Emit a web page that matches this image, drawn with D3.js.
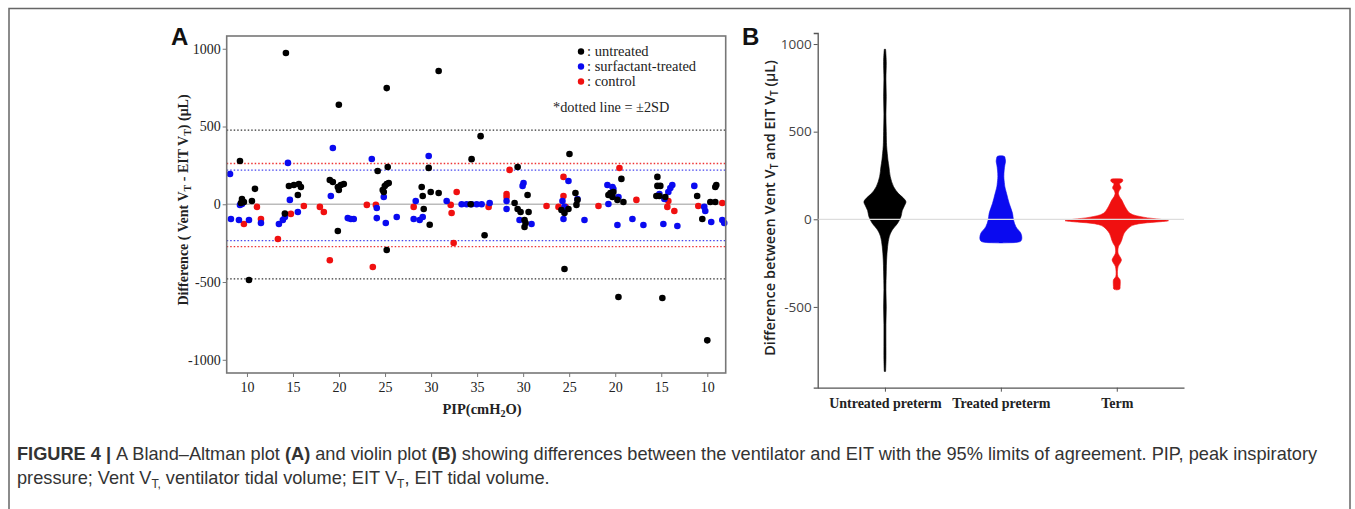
<!DOCTYPE html>
<html>
<head>
<meta charset="utf-8">
<script src="https://cdn.jsdelivr.net/npm/d3@7"></script>
<style>
  body { margin: 0; background: #fff; }
  svg { display: block; }
</style>
</head>
<body>
<svg id="fig" width="1355" height="509"></svg>
<script>
// ---- panel A data: position along the PIP sweep (10 -> 35 -> 10) and difference (µL)
const untreatedT = [9.24, 9.46, 9.67, 9.35, 10.54, 10.87, 14.56, 15.1, 15.64, 15.86, 15.53, 14.12, 14.23, 10.22,
  19.98, 19.0, 19.33, 19.87, 20.2, 20.52, 19.98, 19.87, 25.18, 24.2, 25.29, 24.75, 24.97, 25.18, 25.4, 24.86, 25.18,
  30.82, 29.74, 28.98, 29.09, 29.96, 30.82, 29.2, 29.85, 34.4, 35.38, 35.81, 34.3, 39.4, 40.48, 39.07, 39.4, 39.72,
  40.59, 40.15, 40.26, 40.15, 45.03, 45.68, 44.16, 44.92, 44.49, 45.79, 45.9, 44.49, 50.67, 49.26, 49.7, 49.8, 49.48,
  50.24, 50.89, 50.35, 54.58, 54.9, 54.58, 54.47, 54.8, 55.44, 55.12, 58.9, 59.46, 60.87, 60.98, 60.33, 60.87, 60.0];
const untreatedV = [278, 34, 15, 8, 21, 99, 117, 124, 130, 111, 60, -60, 973, -487,
  640, 156, 143, 111, 124, 130, 92, -172, 747, 214, 240, 92, 117, 130, 137, 79, -294,
  857, 234, 111, 53, 79, 72, -30, -132, 290, 438, -199, 0, 240, 60, 8, -30, -50,
  -50, -101, -120, -146, 323, 72, -37, -30, -56, -4, 28, -416, 163, 60, 47, 79, 72,
  28, 15, -596, 176, 118, 118, 53, 53, 47, -603, 53, -95, 111, 124, 15, 15, -875];

const treatedT = [8.16, 9.24, 9.46, 8.26, 9.13, 10.22, 11.52, 14.45, 14.66, 15.53, 13.47, 13.9, 14.12, 19.33, 19.11,
  20.95, 21.28, 21.6, 23.56, 24.86, 24.1, 24.1, 25.08, 26.27, 28.11, 28.76, 29.74, 28.33, 29.09, 31.69,
  33.32, 33.86, 34.4, 34.95, 35.49, 36.36, 38.2, 38.2, 40.04, 39.94, 39.61, 40.91, 44.92, 44.27, 44.49, 44.38,
  45.9, 46.66, 49.15, 49.7, 49.8, 50.35, 49.26, 50.24, 51.87, 53.06, 54.8, 55.34, 56.2, 55.99, 55.77, 55.23,
  56.75, 58.59, 59.67, 59.78, 60.43, 61.63, 61.84];
const treatedV = [195, -5, 2, -95, -101, -101, -120, 266, 28, -50, -127, -101, -82, 362, 53,
  -89, -95, -95, 291, 47, -24, -89, -120, -82, -95, -101, 310, 21, -82, 21,
  0, 0, 0, 0, 0, 8, 21, -30, 137, 118, -101, -127, 150, 21, -17, -95,
  34, -101, 124, 111, 98, 47, 2, -133, -95, -133, 66, 34, 124, 105, 79, -127,
  -140, 118, -17, -43, -114, -101, -120];

const controlT = [11.08, 9.67, 11.52, 16.18, 14.77, 13.36, 17.92, 18.35, 19.0, 23.02, 24.0, 23.67, 28.11, 32.78,
  32.13, 32.23, 32.45, 36.25, 38.53, 38.2, 38.2, 42.54, 44.38, 44.38, 43.84, 44.6, 48.18, 50.46, 52.3, 55.77,
  55.66, 56.42, 59.02, 61.63];
const controlV = [-17, -127, -95, -11, -62, -223, -17, -50, -360, -4, -4, -403, -17, 79,
  -4, -56, -249, -17, 221, 66, 47, -11, 176, 53, -17, -17, -11, 233, 28, 21,
  -17, -43, -11, 8];

const pipTickPos = [10, 15, 20, 25, 30, 35, 40, 45, 50, 55, 60];
const pipTickLabels = ["10", "15", "20", "25", "30", "35", "30", "25", "20", "15", "10"];
const diffTicks = [-1000, -500, 0, 500, 1000];

// ±2SD limits (µL)
const limitsUntreated = [-480, 477];
const limitsTreated = [-234, 220];
const limitsControl = [-273, 262];

// ---- panel B data: violin outlines [value, density]
const violinGroups = ["Untreated preterm", "Treated preterm", "Term"];
const violinUntreated = [[970, 2], [900, 4], [800, 3], [700, 4], [600, 3], [500, 4], [420, 5], [376, 7], [338, 9],
  [300, 12], [243, 16], [186, 26], [148, 40], [120, 56], [100, 63], [75, 58], [50, 52], [15, 48], [-23, 38],
  [-61, 22], [-99, 13], [-156, 8], [-232, 5], [-300, 4], [-400, 3], [-500, 4], [-600, 3], [-700, 3], [-800, 3], [-868, 2]];
const violinTreated = [[362, 4], [358, 11], [345, 13], [330, 14], [310, 12], [281, 10], [243, 9], [200, 11],
  [186, 12], [148, 17], [91, 25], [34, 35], [-4, 38], [-42, 45], [-80, 60], [-108, 63], [-124, 60], [-131, 50], [-134, 20], [-135, 0]];
const violinTerm = [[231, 6], [228, 17], [220, 18], [210, 14], [205, 9], [195, 9], [185, 12], [175, 12], [165, 8],
  [148, 5], [130, 8], [110, 15], [72, 25], [34, 40], [12, 80], [0, 130], [-8, 155], [-14, 130], [-22, 80],
  [-30, 55], [-42, 40], [-80, 22], [-118, 15], [-140, 10], [-156, 5], [-194, 4], [-215, 10], [-232, 14],
  [-250, 10], [-270, 4], [-327, 3], [-340, 8], [-346, 10], [-384, 10], [-398, 9], [-403, 0]];
const yTicksB = [-500, 0, 500, 1000];

const BLACK = "#000", BLUE = "#0a0af0", RED = "#f01010";
const plainNum = d => String(d);

const svg = d3.select("#fig");

// figure frame
svg.append("rect").attr("x", 9).attr("y", 8.5).attr("width", 1341).attr("height", 520)
  .attr("fill", "none").attr("stroke", "#666").attr("stroke-width", 1.5);

// ================= panel A =================
const xA = d3.scaleLinear().domain([7.8, 62]).range([226.7, 725.7]);
const yA = d3.scaleLinear().domain([-1085, 1082]).range([373, 36]);
const serif = "'Liberation Serif', 'Times New Roman', serif";
const sans = "'Liberation Sans', Arial, sans-serif";

const gA = svg.append("g");

const axA = gA.append("g").attr("transform", `translate(${xA.range()[0]},0)`)
  .call(d3.axisLeft(yA).tickValues(diffTicks).tickFormat(plainNum).tickSize(4).tickPadding(2));
axA.select(".domain").remove();
axA.selectAll("line").attr("stroke", "#777");
axA.selectAll("text").attr("font-family", serif).attr("font-size", 14).attr("fill", "#222");

const axB = gA.append("g").attr("transform", `translate(0,${yA.range()[0]})`)
  .call(d3.axisBottom(xA).tickValues(pipTickPos).tickFormat((d, i) => pipTickLabels[i]).tickSize(4).tickPadding(5));
axB.select(".domain").remove();
axB.selectAll("line").attr("stroke", "#777");
axB.selectAll("text").attr("font-family", serif).attr("font-size", 14).attr("fill", "#222");

// zero line
gA.append("line").attr("x1", xA.range()[0]).attr("x2", xA.range()[1]).attr("y1", yA(0)).attr("y2", yA(0))
  .attr("stroke", "#bbb").attr("stroke-width", 1.5);

// dotted ±2SD lines
const limLines = [
  {v: limitsUntreated, c: "#333"},
  {v: limitsControl, c: "#e33"},
  {v: limitsTreated, c: "#44e"}
];
limLines.forEach(l => l.v.forEach(v => {
  gA.append("line").attr("x1", xA.range()[0]).attr("x2", xA.range()[1]).attr("y1", yA(v)).attr("y2", yA(v))
    .attr("stroke", l.c).attr("stroke-width", 1.3).attr("stroke-dasharray", "1.5,2");
}));

function dots(T, V, color) {
  gA.append("g").selectAll("circle").data(T.map((t, i) => [t, V[i]])).join("circle")
    .attr("cx", d => xA(d[0])).attr("cy", d => yA(d[1])).attr("r", 3.3).attr("fill", color);
}
dots(controlT, controlV, RED);
dots(treatedT, treatedV, BLUE);
dots(untreatedT, untreatedV, BLACK);

// plot box
gA.append("rect").attr("x", xA.range()[0]).attr("y", yA.range()[1])
  .attr("width", xA.range()[1] - xA.range()[0]).attr("height", yA.range()[0] - yA.range()[1])
  .attr("fill", "none").attr("stroke", "#777").attr("stroke-width", 1.6);

// legend
const legend = [["untreated", BLACK], ["surfactant-treated", BLUE], ["control", RED]];
legend.forEach((l, i) => {
  const ly = 51.5 + i * 15;
  gA.append("circle").attr("cx", 581).attr("cy", ly).attr("r", 3.2).attr("fill", l[1]);
  gA.append("text").attr("x", 587).attr("y", ly + 4.5).attr("font-family", serif).attr("font-size", 14.5)
    .attr("fill", "#222").text(": " + l[0]);
});
gA.append("text").attr("x", 553).attr("y", 112).attr("font-family", serif).attr("font-size", 14.3)
  .attr("fill", "#222").text("*dotted line = \u00b12SD");

// axis titles
const tA = gA.append("text").attr("transform", "translate(188,200) rotate(-90)").attr("text-anchor", "middle")
  .attr("font-family", serif).attr("font-size", 14).attr("font-weight", "bold").attr("fill", "#222");
tA.append("tspan").text("Difference ( Vent V");
tA.append("tspan").attr("font-size", 10).attr("dy", 3).text("T");
tA.append("tspan").attr("dy", -3).text(" - EIT V");
tA.append("tspan").attr("font-size", 10).attr("dy", 3).text("T");
tA.append("tspan").attr("dy", -3).text(") (\u03bcL)");

const xt = gA.append("text").attr("x", 482).attr("y", 414).attr("text-anchor", "middle")
  .attr("font-family", serif).attr("font-size", 14.5).attr("font-weight", "bold").attr("fill", "#222");
xt.append("tspan").text("PIP(cmH");
xt.append("tspan").attr("font-size", 10).attr("dy", 3).text("2");
xt.append("tspan").attr("dy", -3).text("O)");

gA.append("text").attr("x", 171).attr("y", 45).attr("font-family", sans).attr("font-size", 24)
  .attr("font-weight", "bold").attr("fill", "#111").text("A");

// ================= panel B =================
const yB = d3.scaleLinear().domain([-961, 1063]).range([387.7, 33]);
const xB = d3.scalePoint().domain(violinGroups).range([817.7, 1184]).padding(0.58);
const wB = d3.scaleLinear().domain([0, 155]).range([0, 51.7]);
const gB = svg.append("g");

const ayB = gB.append("g").attr("transform", "translate(817.7,0)")
  .call(d3.axisLeft(yB).tickValues(yTicksB).tickFormat(plainNum).tickSize(4).tickPadding(2));
ayB.select(".domain").attr("stroke", "#555").attr("stroke-width", 1.3);
ayB.selectAll("line").attr("stroke", "#555");
ayB.selectAll("text").attr("font-family", "'Open Sans', sans-serif").attr("font-size", 13.5).attr("fill", "#444");

const axBB = gB.append("g").attr("transform", "translate(0,387.7)")
  .call(d3.axisBottom(xB).tickSize(4).tickPadding(6).tickSizeOuter(0));
axBB.select(".domain").attr("stroke", "#555").attr("stroke-width", 1.3);
axBB.selectAll("line").attr("stroke", "#555");
axBB.selectAll("text").attr("font-family", serif).attr("font-size", 14).attr("font-weight", "bold").attr("fill", "#222");

const violins = [[violinUntreated, BLACK], [violinTreated, BLUE], [violinTerm, RED]];
violins.forEach((v, i) => {
  const cx = xB(violinGroups[i]);
  const area = d3.area().curve(d3.curveCatmullRom)
    .y(d => yB(d[0])).x0(d => cx - wB(d[1])).x1(d => cx + wB(d[1]));
  gB.append("path").datum(v[0]).attr("d", area).attr("fill", v[1]).attr("stroke", v[1]).attr("stroke-width", 0.6);
});

gB.append("line").attr("x1", 818.5).attr("x2", 1184).attr("y1", yB(0)).attr("y2", yB(0))
  .attr("stroke", "#ddd").attr("stroke-width", 1.2);

const tB = gB.append("text").attr("transform", "translate(775,208) rotate(-90)").attr("text-anchor", "middle")
  .attr("font-family", "'Open Sans', sans-serif").attr("font-size", 14.5).attr("font-weight", 600).attr("fill", "#222");
tB.append("tspan").text("Difference between Vent V");
tB.append("tspan").attr("font-size", 10).attr("dy", 3).text("T");
tB.append("tspan").attr("dy", -3).text(" and EIT V");
tB.append("tspan").attr("font-size", 10).attr("dy", 3).text("T");
tB.append("tspan").attr("dy", -3).text(" (\u03bcL)");

gB.append("text").attr("x", 742).attr("y", 45).attr("font-family", sans).attr("font-size", 24)
  .attr("font-weight", "bold").attr("fill", "#111").text("B");

// ================= caption =================
const cap1 = svg.append("text").attr("x", 17).attr("y", 460).attr("font-family", sans).attr("font-size", 18.2).attr("fill", "#333");
cap1.append("tspan").attr("font-weight", "bold").text("FIGURE 4 | ");
cap1.append("tspan").text("A Bland\u2013Altman plot ");
cap1.append("tspan").attr("font-weight", "bold").text("(A)");
cap1.append("tspan").text(" and violin plot ");
cap1.append("tspan").attr("font-weight", "bold").text("(B)");
cap1.append("tspan").text(" showing differences between the ventilator and EIT with the 95% limits of agreement. PIP, peak inspiratory");

const cap2 = svg.append("text").attr("x", 17).attr("y", 484).attr("font-family", sans).attr("font-size", 18.2).attr("fill", "#333");
cap2.append("tspan").text("pressure; Vent V");
cap2.append("tspan").attr("font-size", 12).attr("dy", 4).text("T,");
cap2.append("tspan").attr("dy", -4).text(" ventilator tidal volume; EIT V");
cap2.append("tspan").attr("font-size", 12).attr("dy", 4).text("T");
cap2.append("tspan").attr("dy", -4).text(", EIT tidal volume.");
</script>
</body>
</html>
